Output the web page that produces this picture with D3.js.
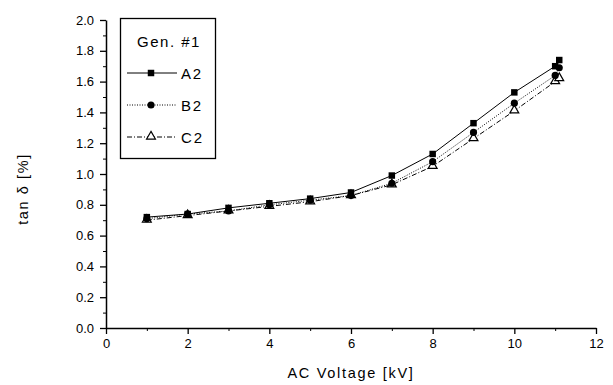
<!DOCTYPE html>
<html>
<head>
<meta charset="utf-8">
<script src="https://cdn.jsdelivr.net/npm/d3@7"></script>
<style>
  body { margin: 0; background: #fff; }
  text { font-family: "Liberation Sans", Arial, sans-serif; fill: #000; }
</style>
</head>
<body>
<div id="chart"></div>
<script>
// voltage steps in kV
var voltage = [1, 2, 3, 4, 5, 6, 7, 8, 9, 10, 11, 11.1];
var seriesA2 = [0.72, 0.74, 0.78, 0.81, 0.84, 0.88, 0.99, 1.13, 1.33, 1.53, 1.70, 1.74];
var seriesB2 = [0.71, 0.74, 0.76, 0.80, 0.83, 0.86, 0.94, 1.08, 1.27, 1.46, 1.64, 1.69];
var seriesC2 = [0.70, 0.73, 0.76, 0.79, 0.82, 0.86, 0.93, 1.05, 1.23, 1.41, 1.60, 1.62];
var seriesNames = ["A2", "B2", "C2"];
var xTicks = [0, 2, 4, 6, 8, 10, 12];
var yTicks = [0, 0.2, 0.4, 0.6, 0.8, 1.0, 1.2, 1.4, 1.6, 1.8, 2.0];

var width = 613, height = 385;
var margin = { top: 20, right: 17, bottom: 57, left: 106 };

var svg = d3.select("#chart").append("svg")
    .attr("width", width)
    .attr("height", height);

var x = d3.scaleLinear().domain([0, 12]).range([margin.left, width - margin.right]);
var y = d3.scaleLinear().domain([0, 2]).range([height - margin.bottom, margin.top]);

// minor ticks first, then the major axis on top
svg.append("g")
    .attr("transform", "translate(0," + y(0) + ")")
    .call(d3.axisBottom(x).tickValues(d3.range(1, 12, 2)).tickSize(3).tickFormat(""))
    .call(g => g.select(".domain").remove());
svg.append("g")
    .attr("transform", "translate(" + x(0) + ",0)")
    .call(d3.axisLeft(y).tickValues(d3.range(0.1, 2, 0.2)).tickSize(3).tickFormat(""))
    .call(g => g.select(".domain").remove());

var xAxis = svg.append("g")
    .attr("transform", "translate(0," + y(0) + ")")
    .call(d3.axisBottom(x).tickValues(xTicks).tickSize(6).tickSizeOuter(0).tickPadding(5).tickFormat(d3.format("d")));
var yAxis = svg.append("g")
    .attr("transform", "translate(" + x(0) + ",0)")
    .call(d3.axisLeft(y).tickValues(yTicks).tickSize(6).tickSizeOuter(0).tickPadding(6).tickFormat(d3.format(".1f")));

[xAxis, yAxis].forEach(function (g) {
    g.selectAll("text").style("font-size", "13px").style("font-family", "Liberation Sans, Arial, sans-serif");
    g.select(".domain").attr("stroke-width", 1.5);
    g.selectAll(".tick line").attr("stroke-width", 1.3);
});

svg.append("text")
    .attr("x", 351)
    .attr("y", 378)
    .attr("text-anchor", "middle")
    .style("font-size", "14.5px")
    .style("letter-spacing", "1.7px")
    .text("AC Voltage [kV]");

svg.append("text")
    .attr("transform", "translate(28,189) rotate(-90)")
    .attr("text-anchor", "middle")
    .style("font-size", "14.5px")
    .style("letter-spacing", "1.6px")
    .text("tan δ [%]");

var styles = [
    { values: seriesA2, dash: null, marker: "square" },
    { values: seriesB2, dash: "1,1.5", marker: "circle" },
    { values: seriesC2, dash: "5,2,1,2", marker: "triangle" }
];

var line = d3.line()
    .x(d => x(d[0]))
    .y(d => y(d[1]));

function drawMarker(g, type, cx, cy) {
    if (type === "square") {
        g.append("path")
            .attr("d", d3.symbol().type(d3.symbolSquare).size(42)())
            .attr("transform", "translate(" + cx + "," + cy + ")")
            .attr("fill", "#000");
    } else if (type === "circle") {
        g.append("path")
            .attr("d", d3.symbol().type(d3.symbolCircle).size(40)())
            .attr("transform", "translate(" + cx + "," + cy + ")")
            .attr("fill", "#000");
    } else {
        g.append("path")
            .attr("d", d3.symbol().type(d3.symbolTriangle).size(34)())
            .attr("transform", "translate(" + cx + "," + (cy - 0.5) + ")")
            .attr("fill", "#fff")
            .attr("stroke", "#000")
            .attr("stroke-width", 1.2);
    }
}

var plot = svg.append("g");
styles.slice().reverse().forEach(function (s) {
    var pts = voltage.map((v, i) => [v, s.values[i]]);
    plot.append("path")
        .datum(pts)
        .attr("d", line)
        .attr("fill", "none")
        .attr("stroke", "#000")
        .attr("stroke-width", 1)
        .attr("stroke-dasharray", s.dash);
    pts.forEach(function (p) {
        drawMarker(plot, s.marker, x(p[0]), y(p[1]));
    });
});

// legend
var legend = svg.append("g");
legend.append("rect")
    .attr("x", 120.5)
    .attr("y", 18.5)
    .attr("width", 95)
    .attr("height", 140)
    .attr("fill", "#fff")
    .attr("stroke", "#000")
    .attr("stroke-width", 1.3);
legend.append("text")
    .attr("x", 169)
    .attr("y", 47)
    .attr("text-anchor", "middle")
    .style("font-size", "15px")
    .style("letter-spacing", "1.5px")
    .text("Gen. #1");

styles.forEach(function (s, i) {
    var ly = 73 + i * 32;
    legend.append("line")
        .attr("x1", 127).attr("x2", 177)
        .attr("y1", ly).attr("y2", ly)
        .attr("stroke", "#000")
        .attr("stroke-width", 1)
        .attr("stroke-dasharray", s.dash);
    drawMarker(legend, s.marker, 151, ly);
    legend.append("text")
        .attr("x", 181)
        .attr("y", ly + 5.5)
        .style("font-size", "15px")
        .style("letter-spacing", "1.8px")
        .text(seriesNames[i]);
});
</script>
</body>
</html>
